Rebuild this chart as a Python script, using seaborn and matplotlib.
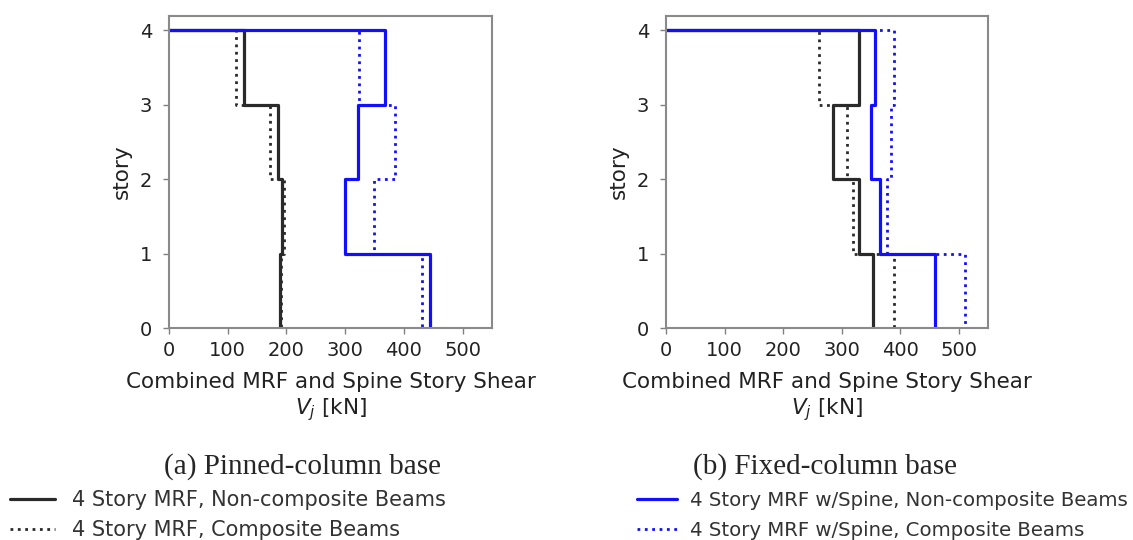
import matplotlib
matplotlib.use("Agg")
import matplotlib.pyplot as plt
import seaborn as sns
import pandas as pd

# ---------------- data ----------------
stories = [4, 3, 2, 1]
series_labels = [
    "4 Story MRF, Non-composite Beams",
    "4 Story MRF, Composite Beams",
    "4 Story MRF w/Spine, Non-composite Beams",
    "4 Story MRF w/Spine, Composite Beams",
]
# story shear [kN] for stories 4, 3, 2, 1
pinned_mrf_noncomp = [128, 185, 193, 189]
pinned_mrf_comp = [114, 172, 196, 191]
pinned_spine_noncomp = [367, 322, 300, 445]
pinned_spine_comp = [324, 385, 349, 430]

fixed_mrf_noncomp = [330, 285, 330, 354]
fixed_mrf_comp = [262, 309, 319, 389]
fixed_spine_noncomp = [357, 351, 366, 460]
fixed_spine_comp = [390, 384, 378, 510]

x_ticks = [0, 100, 200, 300, 400, 500]
y_ticks = [0, 1, 2, 3, 4]
captions = ["(a) Pinned-column base", "(b) Fixed-column base"]

# ---------------- style ----------------
sns.set_style("white")
plt.rcParams["font.family"] = ["DejaVu Sans"]

W, H = 1133, 540
fig = plt.figure(figsize=(W / 100, H / 100), dpi=100)


def px_axes(x0, y0, x1, y1):
    return fig.add_axes([x0 / W, 1 - y1 / H, (x1 - x0) / W, (y1 - y0) / H])


def step_frame(vals):
    xs = [0]
    ys = [stories[0]]
    for j, v in zip(stories, vals):
        xs += [v, v]
        ys += [j, j - 1]
    return pd.DataFrame({"V": xs, "story": ys})


styles = [
    dict(color="#2a2a2a", linestyle="-", linewidth=2.3),
    dict(color="#2a2a2a", linestyle=":", linewidth=2.0),
    dict(color="#1010ff", linestyle="-", linewidth=2.3),
    dict(color="#1010ff", linestyle=":", linewidth=2.0),
]

panels = [
    (px_axes(169, 15.5, 492, 328),
     [pinned_mrf_noncomp, pinned_mrf_comp, pinned_spine_noncomp, pinned_spine_comp]),
    (px_axes(666, 15.5, 988, 328),
     [fixed_mrf_noncomp, fixed_mrf_comp, fixed_spine_noncomp, fixed_spine_comp]),
]

handles = []
for ax, data in panels:
    for vals, st, lab in zip(data, styles, series_labels):
        df = step_frame(vals)
        sns.lineplot(data=df, x="V", y="story", sort=False, estimator=None,
                     ax=ax, label=lab, legend=False, **st)
    ax.set_xlim(0, 550)
    ax.set_ylim(0, 4.2)
    ax.set_xticks(x_ticks)
    ax.set_yticks(y_ticks)
    ax.tick_params(axis="both", labelsize=14, labelcolor="#222222", length=4,
                   width=1, color="#808080", bottom=True, left=True)
    ax.tick_params(axis="x", pad=5)
    ax.tick_params(axis="y", pad=8)
    for sp in ax.spines.values():
        sp.set_color("#8a8a8a")
        sp.set_linewidth(1.5)
    ax.set_xlabel("Combined MRF and Spine Story Shear\n$V_j$ [kN]",
                  fontsize=15.5, color="#222222", labelpad=9,
                  linespacing=1.25)
    ax.set_ylabel("story", fontsize=15.5, color="#222222", labelpad=6)
    handles.append(ax.get_lines())

left_lines = handles[0][:2]
right_lines = handles[0][2:4]

fig.text(302 / W, 1 - 467 / H, captions[0], ha="center", va="center",
         fontsize=21, family="Liberation Serif")
fig.text(825 / W, 1 - 467 / H, captions[1], ha="center", va="center",
         fontsize=21, family="Liberation Serif")

common = dict(loc="upper left", frameon=False, borderpad=0,
              borderaxespad=0, labelcolor="#333333")
fig.legend(left_lines, series_labels[:2],
           bbox_to_anchor=(10 / W, 1 - 490 / H), fontsize=15,
           handlelength=2.16, handletextpad=0.82, labelspacing=0.5, **common)
fig.legend(right_lines, series_labels[2:],
           bbox_to_anchor=(637 / W, 1 - 491 / H), fontsize=14.2,
           handlelength=2.03, handletextpad=0.66, labelspacing=0.55, **common)

fig.savefig("out.png", dpi=100, facecolor="white")
